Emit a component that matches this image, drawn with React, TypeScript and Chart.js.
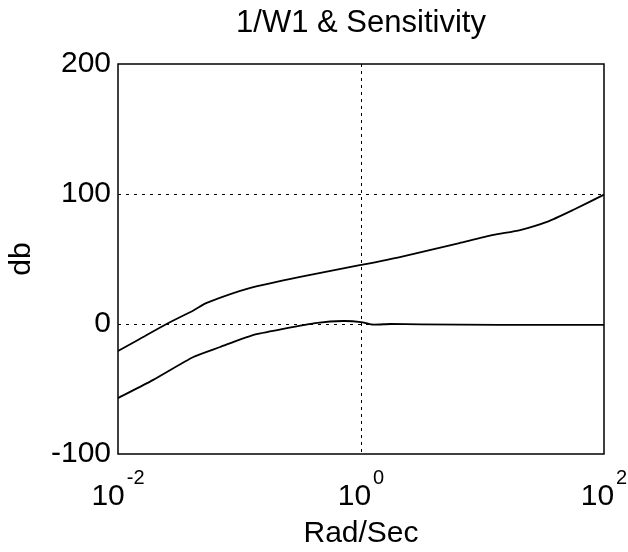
import React, { useEffect, useRef } from 'react';
import { Chart, registerables } from 'chart.js';

Chart.register(...registerables);

const FONT = '"Liberation Sans", Arial, Helvetica, sans-serif';

// 1/W1 curve (frequency in rad/sec, magnitude in db)
const w1Freq = [0.01, 0.0151, 0.0251, 0.0417, 0.0537, 0.123, 0.316, 1, 2.09, 6.46, 12.3, 20.4, 33.9, 55.6, 100];
const w1Db = [-20.8, -11.5, 0, 10.4, 16.2, 27.7, 36.2, 45.4, 51.5, 62.3, 68.5, 72.3, 78.5, 87.7, 99.5];

// Sensitivity curve
const sensFreq = [0.01, 0.0195, 0.0417, 0.0692, 0.129, 0.229, 0.437, 0.708, 1, 1.23, 1.74, 3.09, 13.8, 100];
const sensDb = [-57, -43, -25.4, -17.7, -8.5, -3.8, 0.8, 2.3, 1.5, -0.4, 0, -0.3, -0.6, -0.6];

const xTickValues = [0.01, 1, 100];
const xTickBase = ['10', '10', '10'];
const xTickExp = ['-2', '0', '2'];
const yTickValues = [-100, 0, 100, 200];
const xGridValues = [1];
const yGridValues = [0, 100];

const framePlugin = {
  id: 'frame',
  afterDatasetsDraw(chart: any) {
    const { ctx, chartArea } = chart;
    ctx.save();
    ctx.strokeStyle = '#000';
    ctx.lineWidth = 1.5;
    ctx.setLineDash([]);
    ctx.strokeRect(chartArea.left, chartArea.top, chartArea.right - chartArea.left, chartArea.bottom - chartArea.top);
    ctx.restore();
  },
  afterDraw(chart: any) {
    const { ctx } = chart;
    const xs = chart.scales.x;
    ctx.save();
    ctx.fillStyle = '#000';
    ctx.textBaseline = 'alphabetic';
    ctx.textAlign = 'left';
    xTickValues.forEach((v, i) => {
      const px = xs.getPixelForValue(v);
      ctx.font = `30px ${FONT}`;
      const wb = ctx.measureText(xTickBase[i]).width;
      ctx.font = `20px ${FONT}`;
      const we = ctx.measureText(xTickExp[i]).width;
      const gap = 2;
      const start = px - (wb + gap + we) / 2;
      ctx.font = `30px ${FONT}`;
      ctx.fillText(xTickBase[i], start, 505);
      ctx.font = `20px ${FONT}`;
      ctx.fillText(xTickExp[i], start + wb + gap, 484);
    });
    ctx.restore();
  },
};

export default function App() {
  const ref = useRef<HTMLCanvasElement | null>(null);

  useEffect(() => {
    document.body.style.margin = '0';
    document.body.style.background = '#fff';
    const canvas = ref.current;
    if (!canvas) return;
    const chart = new Chart(canvas, {
      type: 'line',
      data: {
        datasets: [
          {
            label: '1/W1',
            data: w1Freq.map((f, i) => ({ x: f, y: w1Db[i] })),
            borderColor: '#000',
            borderWidth: 1.8,
            pointRadius: 0,
            tension: 0.2,
            fill: false,
          },
          {
            label: 'Sensitivity',
            data: sensFreq.map((f, i) => ({ x: f, y: sensDb[i] })),
            borderColor: '#000',
            borderWidth: 1.8,
            pointRadius: 0,
            tension: 0.2,
            fill: false,
          },
        ],
      },
      options: {
        responsive: false,
        animation: false,
        devicePixelRatio: 1,
        layout: { padding: { top: 0, right: 24, bottom: 0, left: 0 } },
        plugins: {
          legend: { display: false },
          tooltip: { enabled: false },
          title: {
            display: true,
            fullSize: false,
            text: '1/W1 & Sensitivity',
            color: '#000',
            font: { family: FONT, size: 31, weight: 'normal', lineHeight: 1.2 },
            padding: { top: 5, bottom: 21.8 },
          },
        },
        scales: {
          x: {
            type: 'logarithmic',
            min: 0.01,
            max: 100,
            afterBuildTicks: (scale: any) => {
              scale.ticks = xTickValues.map((v) => ({ value: v }));
            },
            afterFit: (scale: any) => {
              scale.height = 98;
            },
            ticks: { display: false },
            grid: {
              drawTicks: false,
              lineWidth: 1,
              color: (c: any) => (xGridValues.includes(c.tick?.value) ? '#000' : 'rgba(0,0,0,0)'),
            },
            border: { display: false, dash: [3, 4] },
            title: {
              display: true,
              text: 'Rad/Sec',
              color: '#000',
              font: { family: FONT, size: 30, weight: 'normal', lineHeight: 1.2 },
              padding: { top: 0, bottom: 0 },
            },
          },
          y: {
            type: 'linear',
            min: -100,
            max: 200,
            afterBuildTicks: (scale: any) => {
              scale.ticks = yTickValues.map((v) => ({ value: v }));
            },
            afterFit: (scale: any) => {
              scale.width = 118;
            },
            ticks: {
              color: '#000',
              font: { family: FONT, size: 30 },
              padding: 7,
            },
            grid: {
              drawTicks: false,
              lineWidth: 1,
              color: (c: any) => (yGridValues.includes(c.tick?.value) ? '#000' : 'rgba(0,0,0,0)'),
            },
            border: { display: false, dash: [3, 5] },
            title: {
              display: true,
              text: 'db',
              color: '#000',
              font: { family: FONT, size: 30, weight: 'normal', lineHeight: 1.2 },
              padding: { top: 4, bottom: 0 },
            },
          },
        },
      },
      plugins: [framePlugin],
    });
    return () => chart.destroy();
  }, []);

  return <canvas ref={ref} width={628} height={552} style={{ display: 'block' }} />;
}
